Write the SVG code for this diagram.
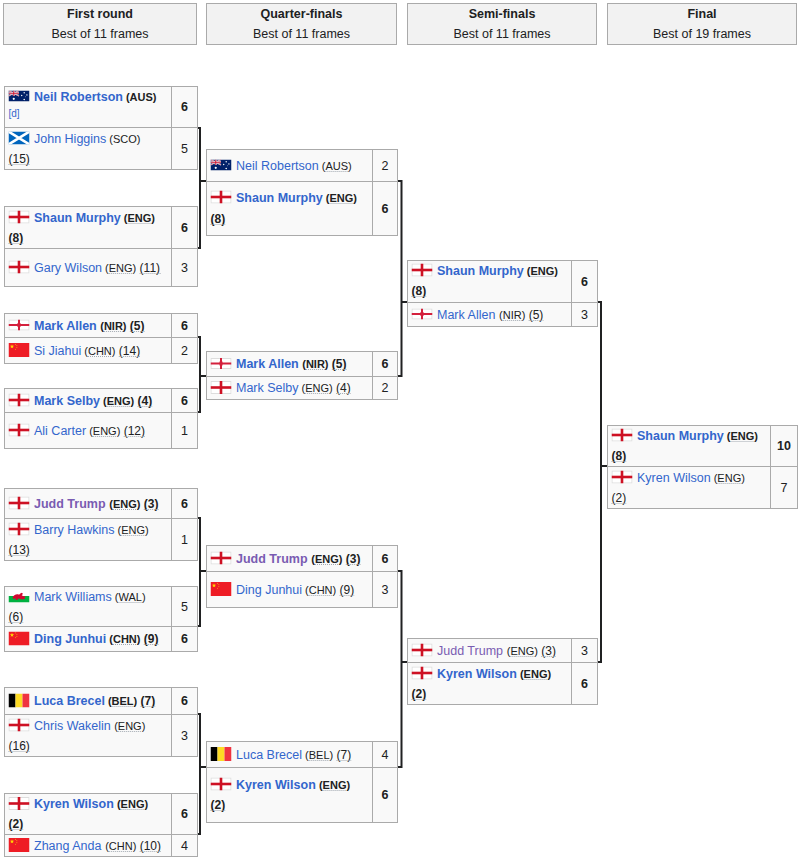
<svg xmlns="http://www.w3.org/2000/svg" xmlns:xlink="http://www.w3.org/1999/xlink" width="800" height="859" viewBox="0 0 800 859">
<style>
text{font-family:"Liberation Sans",Arial,Helvetica,sans-serif;fill:#202122;font-size:12.5px}
.hd{fill:#f2f2f2;stroke:#aaaaaa;stroke-width:1}
.ht{text-anchor:middle}
.c{fill:#f9f9f9;stroke:#aaaaaa;stroke-width:1}
.b{font-weight:bold}
.nm{fill:#3366cc}
.v{fill:#795cb2}
.cc{font-size:11px}
.sd{font-size:12px}
.u{fill:none;stroke:#a2a9b1;stroke-width:1;stroke-dasharray:1 1}
.sc{text-anchor:middle}
.ref{font-size:10px;fill:#3366cc}
.conn path{fill:none;stroke:#202122;stroke-width:2}
</style>
<defs>
<symbol id="f-eng" viewBox="0 0 21 13" preserveAspectRatio="none">
<rect x="0.5" y="0.5" width="20" height="12" fill="#ffffff" stroke="#dddddd"/>
<rect x="0" y="5.2" width="21" height="2.6" fill="#ce1124"/>
<rect x="9.2" y="0" width="2.6" height="13" fill="#ce1124"/>
</symbol>
<symbol id="f-aus" viewBox="0 0 21 11" preserveAspectRatio="none">
<rect width="21" height="11" fill="#012169"/>
<path d="M0 0L10.5 5.5M10.5 0L0 5.5" stroke="#ffffff" stroke-width="1.3"/>
<path d="M0 0L10.5 5.5M10.5 0L0 5.5" stroke="#c8102e" stroke-width="0.5"/>
<path d="M5.25 0V5.5M0 2.75H10.5" stroke="#ffffff" stroke-width="1.8"/>
<path d="M5.25 0V5.5M0 2.75H10.5" stroke="#c8102e" stroke-width="1"/>
<circle cx="5.25" cy="8.3" r="1.1" fill="#ffffff"/>
<circle cx="15.7" cy="2.2" r="0.7" fill="#ffffff"/>
<circle cx="13.2" cy="5" r="0.7" fill="#ffffff"/>
<circle cx="18.4" cy="4.4" r="0.7" fill="#ffffff"/>
<circle cx="15.7" cy="9" r="0.8" fill="#ffffff"/>
<circle cx="16.9" cy="6.3" r="0.4" fill="#ffffff"/>
</symbol>
<symbol id="f-sco" viewBox="0 0 21 13" preserveAspectRatio="none">
<rect width="21" height="13" fill="#0065bd"/>
<path d="M0 0L21 13M21 0L0 13" stroke="#ffffff" stroke-width="2.6"/>
</symbol>
<symbol id="f-nir" viewBox="0 0 21 11" preserveAspectRatio="none">
<rect x="0.5" y="0.5" width="20" height="10" fill="#ffffff" stroke="#dddddd"/>
<rect x="0" y="4.5" width="21" height="2" fill="#d4213d"/>
<rect x="9.5" y="0" width="2" height="11" fill="#d4213d"/>
<rect x="9" y="3.5" width="3" height="4" fill="#d4213d"/>
</symbol>
<symbol id="star" viewBox="-1 -1 2 2">
<polygon points="0,-1 0.2245,-0.309 0.951,-0.309 0.363,0.118 0.588,0.809 0,0.382 -0.588,0.809 -0.363,0.118 -0.951,-0.309 -0.2245,-0.309" fill="#ffde00"/>
</symbol>
<symbol id="f-chn" viewBox="0 0 21 14" preserveAspectRatio="none">
<rect width="21" height="14" fill="#ee1c25"/>
<use xlink:href="#star" href="#star" x="1.2" y="1.2" width="4.6" height="4.6"/>
<use xlink:href="#star" href="#star" x="6.3" y="0.6" width="1.6" height="1.6"/>
<use xlink:href="#star" href="#star" x="7.6" y="2" width="1.6" height="1.6"/>
<use xlink:href="#star" href="#star" x="7.6" y="4" width="1.6" height="1.6"/>
<use xlink:href="#star" href="#star" x="6.3" y="5.4" width="1.6" height="1.6"/>
</symbol>
<symbol id="f-wal" viewBox="0 0 21 13" preserveAspectRatio="none">
<rect width="21" height="6.5" fill="#ffffff"/>
<rect y="6.5" width="21" height="6.5" fill="#00b140"/>
<path d="M4 8.5C5 5.5 8 4.2 10.5 5.2L12.8 3.2L14.6 4.3L13.2 5.8C14.5 6.6 15.6 7.3 16.8 6.6L16.3 9.3C14 10.2 11.5 9.8 10.2 8.8L8.6 10.6L6.8 10.2L7.6 8.6L5.6 9.6Z" fill="#d30731"/>
</symbol>
<symbol id="f-bel" viewBox="0 0 21 14" preserveAspectRatio="none">
<rect width="7" height="14" fill="#000000"/>
<rect x="7" width="7" height="14" fill="#fdda24"/>
<rect x="14" width="7" height="14" fill="#ef3340"/>
</symbol>
</defs>
<rect width="800" height="859" fill="#ffffff"/>

<g id="headers">
<g id="h-r1"><rect class="hd" x="3.5" y="3.5" width="193" height="41"/><text class="ht b" x="100" y="17.5">First round</text><text class="ht" x="100" y="37.5">Best of 11 frames</text></g>
<g id="h-qf"><rect class="hd" x="206.5" y="3.5" width="190" height="41"/><text class="ht b" x="301.5" y="17.5">Quarter-finals</text><text class="ht" x="301.5" y="37.5">Best of 11 frames</text></g>
<g id="h-sf"><rect class="hd" x="407.5" y="3.5" width="189" height="41"/><text class="ht b" x="502" y="17.5">Semi-finals</text><text class="ht" x="502" y="37.5">Best of 11 frames</text></g>
<g id="h-f"><rect class="hd" x="607.5" y="3.5" width="189" height="41"/><text class="ht b" x="702" y="17.5">Final</text><text class="ht" x="702" y="37.5">Best of 19 frames</text></g>
</g>

<g class="conn" id="connectors">
<path d="M197 128H200V248H197M200 181H206"/>
<path d="M197 337H200V412H197M200 376H206"/>
<path d="M197 518H200V626H197M200 571H206"/>
<path d="M197 714H200V834H197M200 767H206"/>
<path d="M397 181H401.5V376H397M401.5 302H407"/>
<path d="M397 571H401.5V767H397M401.5 662H407"/>
<path d="M597 302H601V662H597M601 466H607"/>
</g>

<!-- First round -->
<g id="r1-m1">
<g id="r1-m1-a"><rect class="c" x="4.5" y="86.5" width="167" height="41"/><rect class="c" x="171.5" y="86.5" width="26" height="41"/>
<use href="#f-aus" xlink:href="#f-aus" x="8.5" y="90.5" width="21" height="11"/>
<text class="b nm" x="34" y="100.5">Neil Robertson</text><text class="b cc" x="125.96" y="100.5">(AUS)</text>
<text class="ref" x="8.5" y="117">[d]</text>
<text class="sc b" x="184.5" y="111">6</text></g>
<g id="r1-m1-b"><rect class="c" x="4.5" y="127.5" width="167" height="42"/><rect class="c" x="171.5" y="127.5" width="26" height="42"/>
<use href="#f-sco" xlink:href="#f-sco" x="8.5" y="131.5" width="21" height="13"/>
<text class="nm" x="34" y="142.5">John Higgins</text><text class="cc" x="109.31" y="142.5">(SCO)</text>
<text class="sd" x="8.5" y="162.5">(15)</text>
<path class="u" d="M8.5 164.5H29.8"/>
<text class="sc" x="184.5" y="152.5">5</text></g>
</g>

<g id="r1-m2">
<g id="r1-m2-a"><rect class="c" x="4.5" y="206.5" width="167" height="42"/><rect class="c" x="171.5" y="206.5" width="26" height="42"/>
<use href="#f-eng" xlink:href="#f-eng" x="8.5" y="210.5" width="21" height="13"/>
<text class="b nm" x="34" y="221.5">Shaun Murphy</text><text class="b cc" x="123.87" y="221.5">(ENG)</text>
<text class="b sd" x="8.5" y="241.5">(8)</text>
<path class="u" d="M127.5 223.5H151.4M8.5 243.5H23.2"/>
<text class="sc b" x="184.5" y="231.5">6</text></g>
<g id="r1-m2-b"><rect class="c" x="4.5" y="248.5" width="167" height="38"/><rect class="c" x="171.5" y="248.5" width="26" height="38"/>
<use href="#f-eng" xlink:href="#f-eng" x="8.5" y="260.5" width="21" height="13"/>
<text class="nm" x="34" y="271.5">Gary Wilson</text><text class="cc" x="105.12" y="271.5">(ENG)</text><text class="sd" x="139.62" y="271.5">(11)</text>
<path class="u" d="M108.8 273.5H132.6M139.6 273.5H161"/>
<text class="sc" x="184.5" y="271.5">3</text></g>
</g>

<g id="r1-m3">
<g id="r1-m3-a"><rect class="c" x="4.5" y="313.5" width="167" height="24"/><rect class="c" x="171.5" y="313.5" width="26" height="24"/>
<use href="#f-nir" xlink:href="#f-nir" x="8.5" y="319.5" width="21" height="11"/>
<text class="b nm" x="34" y="329.5">Mark Allen</text><text class="b cc" x="100.27" y="329.5">(NIR)</text><text class="b sd" x="129.87" y="329.5">(5)</text>
<path class="u" d="M103.9 331.5H122.9M129.9 331.5H144.5"/>
<text class="sc b" x="184.5" y="329.5">6</text></g>
<g id="r1-m3-b"><rect class="c" x="4.5" y="337.5" width="167" height="26"/><rect class="c" x="171.5" y="337.5" width="26" height="26"/>
<use href="#f-chn" xlink:href="#f-chn" x="8.5" y="343" width="21" height="14"/>
<text class="nm" x="34" y="354.5">Si Jiahui</text><text class="cc" x="84.3" y="354.5">(CHN)</text><text class="sd" x="118.79" y="354.5">(14)</text>
<path class="u" d="M88 356.5H111.8M118.8 356.5H140.1"/>
<text class="sc" x="184.5" y="354.5">2</text></g>
</g>

<g id="r1-m4">
<g id="r1-m4-a"><rect class="c" x="4.5" y="388.5" width="167" height="24"/><rect class="c" x="171.5" y="388.5" width="26" height="24"/>
<use href="#f-eng" xlink:href="#f-eng" x="8.5" y="393.5" width="21" height="13"/>
<text class="b nm" x="34" y="404.5">Mark Selby</text><text class="b cc" x="103.06" y="404.5">(ENG)</text><text class="b sd" x="137.56" y="404.5">(4)</text>
<path class="u" d="M106.7 406.5H130.6M137.6 406.5H152.2"/>
<text class="sc b" x="184.5" y="404.5">6</text></g>
<g id="r1-m4-b"><rect class="c" x="4.5" y="412.5" width="167" height="36"/><rect class="c" x="171.5" y="412.5" width="26" height="36"/>
<use href="#f-eng" xlink:href="#f-eng" x="8.5" y="423.5" width="21" height="13"/>
<text class="nm" x="34" y="434.5">Ali Carter</text><text class="cc" x="89.15" y="434.5">(ENG)</text><text class="sd" x="123.65" y="434.5">(12)</text>
<path class="u" d="M92.8 436.5H116.7M123.7 436.5H145"/>
<text class="sc" x="184.5" y="434.5">1</text></g>
</g>

<g id="r1-m5">
<g id="r1-m5-a"><rect class="c" x="4.5" y="488.5" width="167" height="30"/><rect class="c" x="171.5" y="488.5" width="26" height="30"/>
<use href="#f-eng" xlink:href="#f-eng" x="8.5" y="496.5" width="21" height="13"/>
<text class="b v" x="34" y="507.5">Judd Trump</text><text class="b cc" x="109.29" y="507.5">(ENG)</text><text class="b sd" x="143.79" y="507.5">(3)</text>
<path class="u" d="M113 509.5H136.8M143.8 509.5H158.5"/>
<text class="sc b" x="184.5" y="507.5">6</text></g>
<g id="r1-m5-b"><rect class="c" x="4.5" y="518.5" width="167" height="42"/><rect class="c" x="171.5" y="518.5" width="26" height="42"/>
<use href="#f-eng" xlink:href="#f-eng" x="8.5" y="522.5" width="21" height="13"/>
<text class="nm" x="34" y="533.5">Barry Hawkins</text><text class="cc" x="117.62" y="533.5">(ENG)</text>
<text class="sd" x="8.5" y="553.5">(13)</text>
<path class="u" d="M121.3 535.5H145.1M8.5 555.5H29.8"/>
<text class="sc" x="184.5" y="543.5">1</text></g>
</g>

<g id="r1-m6">
<g id="r1-m6-a"><rect class="c" x="4.5" y="586.5" width="167" height="40"/><rect class="c" x="171.5" y="586.5" width="26" height="40"/>
<use href="#f-wal" xlink:href="#f-wal" x="8.5" y="589.5" width="21" height="13"/>
<text class="nm" x="34" y="600.5">Mark Williams</text><text class="cc" x="114.82" y="600.5">(WAL)</text>
<text class="sd" x="8.5" y="620.5">(6)</text>
<path class="u" d="M118.5 602.5H142.3M8.5 622.5H23.2"/>
<text class="sc" x="184.5" y="610.5">5</text></g>
<g id="r1-m6-b"><rect class="c" x="4.5" y="626.5" width="167" height="25"/><rect class="c" x="171.5" y="626.5" width="26" height="25"/>
<use href="#f-chn" xlink:href="#f-chn" x="8.5" y="631.5" width="21" height="14"/>
<text class="b nm" x="34" y="643">Ding Junhui</text><text class="b cc" x="109.29" y="643">(CHN)</text><text class="b sd" x="143.78" y="643">(9)</text>
<path class="u" d="M113 644.5H136.8M143.8 644.5H158.4"/>
<text class="sc b" x="184.5" y="643">6</text></g>
</g>

<g id="r1-m7">
<g id="r1-m7-a"><rect class="c" x="4.5" y="687.5" width="167" height="27"/><rect class="c" x="171.5" y="687.5" width="26" height="27"/>
<use href="#f-bel" xlink:href="#f-bel" x="8.5" y="693.5" width="21" height="14"/>
<text class="b nm" x="34" y="705">Luca Brecel</text><text class="b cc" x="107.92" y="705">(BEL)</text><text class="b sd" x="140.58" y="705">(7)</text>
<path class="u" d="M111.6 706.5H133.6M140.6 706.5H155.2"/>
<text class="sc b" x="184.5" y="705">6</text></g>
<g id="r1-m7-b"><rect class="c" x="4.5" y="714.5" width="167" height="42"/><rect class="c" x="171.5" y="714.5" width="26" height="42"/>
<use href="#f-eng" xlink:href="#f-eng" x="8.5" y="718.5" width="21" height="13"/>
<text class="nm" x="34" y="729.5">Chris Wakelin</text><text class="cc" x="114.15" y="729.5">(ENG)</text>
<text class="sd" x="8.5" y="749.5">(16)</text>
<path class="u" d="M117.8 731.5H141.7M8.5 751.5H29.8"/>
<text class="sc" x="184.5" y="739.5">3</text></g>
</g>

<g id="r1-m8">
<g id="r1-m8-a"><rect class="c" x="4.5" y="793.5" width="167" height="41"/><rect class="c" x="171.5" y="793.5" width="26" height="41"/>
<use href="#f-eng" xlink:href="#f-eng" x="8.5" y="797" width="21" height="13"/>
<text class="b nm" x="34" y="808">Kyren Wilson</text><text class="b cc" x="116.94" y="808">(ENG)</text>
<text class="b sd" x="8.5" y="828">(2)</text>
<path class="u" d="M120.6 809.5H144.4M8.5 829.5H23.2"/>
<text class="sc b" x="184.5" y="818">6</text></g>
<g id="r1-m8-b"><rect class="c" x="4.5" y="834.5" width="167" height="22"/><rect class="c" x="171.5" y="834.5" width="26" height="22"/>
<use href="#f-chn" xlink:href="#f-chn" x="8.5" y="838" width="21" height="14"/>
<text class="nm" x="34" y="849.5">Zhang Anda</text><text class="cc" x="105.16" y="849.5">(CHN)</text><text class="sd" x="139.65" y="849.5">(10)</text>
<path class="u" d="M108.8 851.5H132.7M139.7 851.5H161"/>
<text class="sc" x="184.5" y="849.5">4</text></g>
</g>

<!-- Quarter-finals -->
<g id="qf-m1">
<g id="qf-m1-a"><rect class="c" x="206.5" y="149.5" width="166" height="32"/><rect class="c" x="372.5" y="149.5" width="25" height="32"/>
<use href="#f-aus" xlink:href="#f-aus" x="210.5" y="159.5" width="21" height="11"/>
<text class="nm" x="236" y="169.5">Neil Robertson</text><text class="cc" x="321.72" y="169.5">(AUS)</text>
<path class="u" d="M325.4 171.5H348"/>
<text class="sc" x="385" y="169.5">2</text></g>
<g id="qf-m1-b"><rect class="c" x="206.5" y="181.5" width="166" height="54"/><rect class="c" x="372.5" y="181.5" width="25" height="54"/>
<use href="#f-eng" xlink:href="#f-eng" x="210.5" y="190.5" width="21" height="13"/>
<text class="b nm" x="236" y="201.5">Shaun Murphy</text><text class="b cc" x="325.87" y="201.5">(ENG)</text>
<text class="b sd" x="210.5" y="222.5">(8)</text>
<path class="u" d="M329.5 203.5H353.4M210.5 224.5H225.2"/>
<text class="sc b" x="385" y="212.5">6</text></g>
</g>

<g id="qf-m2">
<g id="qf-m2-a"><rect class="c" x="206.5" y="351.5" width="166" height="25"/><rect class="c" x="372.5" y="351.5" width="25" height="25"/>
<use href="#f-nir" xlink:href="#f-nir" x="210.5" y="358" width="21" height="11"/>
<text class="b nm" x="236" y="368">Mark Allen</text><text class="b cc" x="302.27" y="368">(NIR)</text><text class="b sd" x="331.87" y="368">(5)</text>
<path class="u" d="M305.9 369.5H324.9M331.9 369.5H346.5"/>
<text class="sc b" x="385" y="368">6</text></g>
<g id="qf-m2-b"><rect class="c" x="206.5" y="376.5" width="166" height="23"/><rect class="c" x="372.5" y="376.5" width="25" height="23"/>
<use href="#f-eng" xlink:href="#f-eng" x="210.5" y="381" width="21" height="13"/>
<text class="nm" x="236" y="392">Mark Selby</text><text class="cc" x="301.57" y="392">(ENG)</text><text class="sd" x="336.07" y="392">(4)</text>
<path class="u" d="M305.2 393.5H329.1M336.1 393.5H350.7"/>
<text class="sc" x="385" y="392">2</text></g>
</g>

<g id="qf-m3">
<g id="qf-m3-a"><rect class="c" x="206.5" y="545.5" width="166" height="26"/><rect class="c" x="372.5" y="545.5" width="25" height="26"/>
<use href="#f-eng" xlink:href="#f-eng" x="210.5" y="551.5" width="21" height="13"/>
<text class="b v" x="236" y="562.5">Judd Trump</text><text class="b cc" x="311.29" y="562.5">(ENG)</text><text class="b sd" x="345.79" y="562.5">(3)</text>
<path class="u" d="M315 564.5H338.8M345.8 564.5H360.5"/>
<text class="sc b" x="385" y="562.5">6</text></g>
<g id="qf-m3-b"><rect class="c" x="206.5" y="571.5" width="166" height="36"/><rect class="c" x="372.5" y="571.5" width="25" height="36"/>
<use href="#f-chn" xlink:href="#f-chn" x="210.5" y="582" width="21" height="14"/>
<text class="nm" x="236" y="593.5">Ding Junhui</text><text class="cc" x="305.06" y="593.5">(CHN)</text><text class="sd" x="339.55" y="593.5">(9)</text>
<path class="u" d="M308.7 595.5H332.6M339.6 595.5H354.2"/>
<text class="sc" x="385" y="593.5">3</text></g>
</g>

<g id="qf-m4">
<g id="qf-m4-a"><rect class="c" x="206.5" y="741.5" width="166" height="26"/><rect class="c" x="372.5" y="741.5" width="25" height="26"/>
<use href="#f-bel" xlink:href="#f-bel" x="210.5" y="747" width="21" height="14"/>
<text class="nm" x="236" y="758.5">Luca Brecel</text><text class="cc" x="305.06" y="758.5">(BEL)</text><text class="sd" x="336.51" y="758.5">(7)</text>
<path class="u" d="M308.7 760.5H329.5M336.5 760.5H351.2"/>
<text class="sc" x="385" y="758.5">4</text></g>
<g id="qf-m4-b"><rect class="c" x="206.5" y="767.5" width="166" height="55"/><rect class="c" x="372.5" y="767.5" width="25" height="55"/>
<use href="#f-eng" xlink:href="#f-eng" x="210.5" y="777.5" width="21" height="13"/>
<text class="b nm" x="236" y="788.5">Kyren Wilson</text><text class="b cc" x="318.94" y="788.5">(ENG)</text>
<text class="b sd" x="210.5" y="808.5">(2)</text>
<path class="u" d="M322.6 790.5H346.4M210.5 810.5H225.2"/>
<text class="sc b" x="385" y="799">6</text></g>
</g>

<!-- Semi-finals -->
<g id="sf-m1">
<g id="sf-m1-a"><rect class="c" x="407.5" y="260.5" width="164" height="42"/><rect class="c" x="571.5" y="260.5" width="26" height="42"/>
<use href="#f-eng" xlink:href="#f-eng" x="411.5" y="263.5" width="21" height="13"/>
<text class="b nm" x="437" y="274.5">Shaun Murphy</text><text class="b cc" x="526.87" y="274.5">(ENG)</text>
<text class="b sd" x="411.5" y="295">(8)</text>
<path class="u" d="M530.5 276.5H554.4M411.5 296.5H426.2"/>
<text class="sc b" x="584.5" y="285.5">6</text></g>
<g id="sf-m1-b"><rect class="c" x="407.5" y="302.5" width="164" height="24"/><rect class="c" x="571.5" y="302.5" width="26" height="24"/>
<use href="#f-nir" xlink:href="#f-nir" x="411.5" y="308.5" width="21" height="11"/>
<text class="nm" x="437" y="318.5">Mark Allen</text><text class="cc" x="499.1" y="318.5">(NIR)</text><text class="sd" x="528.7" y="318.5">(5)</text>
<path class="u" d="M502.8 320.5H521.7M528.7 320.5H543.4"/>
<text class="sc" x="584.5" y="318.5">3</text></g>
</g>

<g id="sf-m2">
<g id="sf-m2-a"><rect class="c" x="407.5" y="638.5" width="164" height="24"/><rect class="c" x="571.5" y="638.5" width="26" height="24"/>
<use href="#f-eng" xlink:href="#f-eng" x="411.5" y="643.5" width="21" height="13"/>
<text class="v" x="437" y="654.5">Judd Trump</text><text class="cc" x="506.75" y="654.5">(ENG)</text><text class="sd" x="541.25" y="654.5">(3)</text>
<path class="u" d="M510.4 656.5H534.3M541.3 656.5H555.9"/>
<text class="sc" x="584.5" y="654.5">3</text></g>
<g id="sf-m2-b"><rect class="c" x="407.5" y="662.5" width="164" height="42"/><rect class="c" x="571.5" y="662.5" width="26" height="42"/>
<use href="#f-eng" xlink:href="#f-eng" x="411.5" y="666.5" width="21" height="13"/>
<text class="b nm" x="437" y="677.5">Kyren Wilson</text><text class="b cc" x="519.94" y="677.5">(ENG)</text>
<text class="b sd" x="411.5" y="697.5">(2)</text>
<path class="u" d="M523.6 679.5H547.4M411.5 699.5H426.2"/>
<text class="sc b" x="584.5" y="687.5">6</text></g>
</g>

<!-- Final -->
<g id="f-m1">
<g id="f-m1-a"><rect class="c" x="607.5" y="425.5" width="163" height="41"/><rect class="c" x="770.5" y="425.5" width="27" height="41"/>
<use href="#f-eng" xlink:href="#f-eng" x="611.5" y="428.5" width="21" height="13"/>
<text class="b nm" x="637" y="439.5">Shaun Murphy</text><text class="b cc" x="726.87" y="439.5">(ENG)</text>
<text class="b sd" x="611.5" y="459.5">(8)</text>
<path class="u" d="M730.5 441.5H754.4M611.5 461.5H626.2"/>
<text class="sc b" x="784" y="450">10</text></g>
<g id="f-m1-b"><rect class="c" x="607.5" y="466.5" width="163" height="42"/><rect class="c" x="770.5" y="466.5" width="27" height="42"/>
<use href="#f-eng" xlink:href="#f-eng" x="611.5" y="470.5" width="21" height="13"/>
<text class="nm" x="637" y="481.5">Kyren Wilson</text><text class="cc" x="713.69" y="481.5">(ENG)</text>
<text class="sd" x="611.5" y="501.5">(2)</text>
<path class="u" d="M717.4 483.5H741.2M611.5 503.5H626.2"/>
<text class="sc" x="784" y="491.5">7</text></g>
</g>
</svg>
